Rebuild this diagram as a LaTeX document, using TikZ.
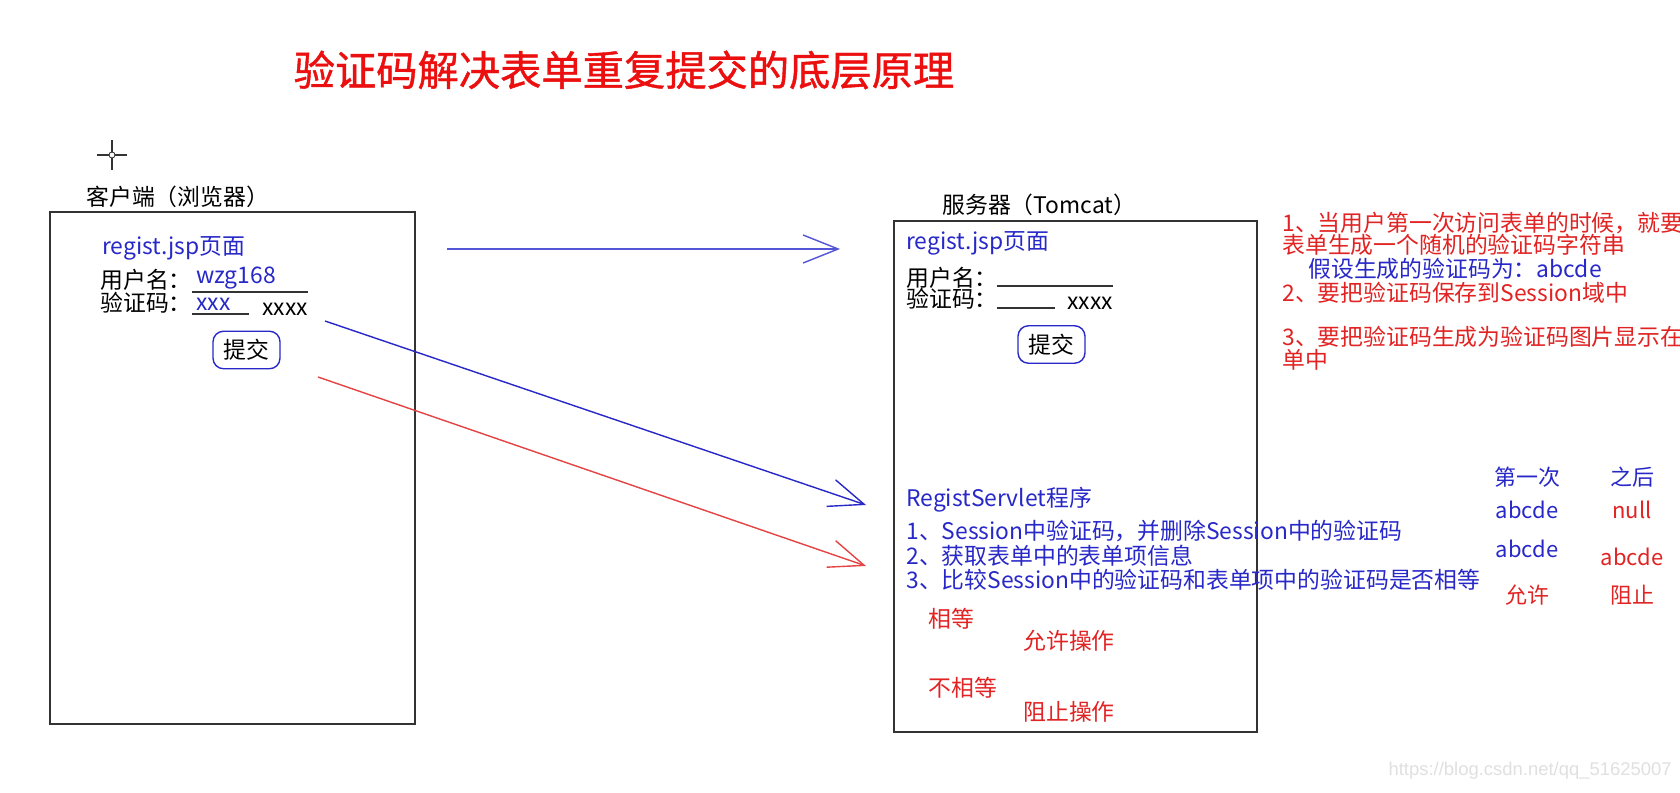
\documentclass[tikz,border=0pt]{standalone}
\usepackage{fontspec}
\setmainfont{Noto Sans CJK SC}
\newfontfamily\titlefont[FakeBold=1]{Noto Sans CJK SC}
\newfontfamily\markfont{Liberation Sans}
\usepackage{tikz}
\usetikzlibrary{arrows.meta}
\usetikzlibrary{positioning}
\definecolor{penblue}{RGB}{40,40,200}
\definecolor{arrowblue}{RGB}{85,85,215}
\definecolor{penred}{RGB}{225,35,35}
\definecolor{titlered}{RGB}{235,15,15}
\tikzstyle{panel} = [draw=black!80, line width=0.8pt, rectangle, inner sep=0pt]
\tikzstyle{txt} = [anchor=west, inner sep=0pt, font=\fontsize{13}{14}\selectfont]
\tikzstyle{cell} = [inner sep=0pt, font=\fontsize{12.5}{13}\selectfont]
\tikzstyle{btn} = [draw=penblue, rounded corners=6pt, line width=0.8pt, minimum width=1.34cm, minimum height=0.75cm, inner sep=0pt, font=\fontsize{13}{14}\selectfont]
\tikzstyle{arrow} = [line width=0.8pt, -{Straight Barb[length=7mm, width=5.6mm]}]

\begin{document}
\begin{tikzpicture}[x=0.02cm, y=-0.02cm]
	
	\fill[white] (0,0) rectangle (1680,793);
	\useasboundingbox (0,0) rectangle (1680,793);
	
	% Title
	\node[inner sep=0pt, text=titlered, font=\titlefont\fontsize{23.5}{25}\selectfont] (title) at (624,70) {验证码解决表单重复提交的底层原理};
	
	% Cursor mark
	\draw[black!80, line width=0.6pt] (97,155) -- (127,155);
	\draw[black!80, line width=0.6pt] (112,140) -- (112,170);
	\draw[black!80, fill=white, line width=0.5pt] (112,155) circle (3);
	
	% Client side
	\node[txt] (clientlbl) at (86,197) {客户端（浏览器）};
	\node[panel, minimum width=7.3cm, minimum height=10.24cm] (client) at (232.5,468) {};
	\node[txt, text=penblue] (cpage) at (102,248) {regist.jsp页面};
	\node[txt] (cuser) at (100,280) {用户名：};
	\node[txt, text=penblue] (cuserval) at (196,278) {wzg168};
	\node[txt] (ccode) at (100,303) {验证码：};
	\node[txt, text=penblue] (ccodeval) at (196,304) {xxx};
	\node[txt] (cimg) at (262,309) {xxxx};
	\draw[black!80, line width=0.6pt] (192,292) -- (308,292);
	\draw[black!80, line width=0.6pt] (192,314) -- (249,314);
	\node[btn] (csubmit) at (246.5,350) {提交};
	
	% Server side
	\node[txt] (serverlbl) at (942,205) {服务器（Tomcat）};
	\node[panel, minimum width=7.26cm, minimum height=10.22cm] (server) at (1075.5,476.5) {};
	\node[txt, text=penblue] (spage) at (906,243) {regist.jsp页面};
	\node[txt] (suser) at (906,278) {用户名：};
	\node[txt] (scode) at (906,299) {验证码：};
	\node[txt] (simg) at (1067,303) {xxxx};
	\draw[black!80, line width=0.6pt] (997,286) -- (1113,286);
	\draw[black!80, line width=0.6pt] (997,308) -- (1055,308);
	\node[btn] (ssubmit) at (1051.5,344.5) {提交};
	
	% Servlet steps
	\node[txt, text=penblue] (servlet) at (906,500) {RegistServlet程序};
	\node[txt, text=penblue] (step1) at (906,531) {1、Session中验证码，并删除Session中的验证码};
	\node[txt, text=penblue] (step2) at (906,556) {2、获取表单中的表单项信息};
	\node[txt, text=penblue] (step3) at (906,580) {3、比较Session中的验证码和表单项中的验证码是否相等};
	\node[txt, text=penred] (equal) at (928,619) {相等};
	\node[txt, text=penred] (allow) at (1023,641) {允许操作};
	\node[txt, text=penred] (notequal) at (928,688) {不相等};
	\node[txt, text=penred] (block) at (1023,712) {阻止操作};
	
	% Notes
	\node[txt, text=penred] (note1) at (1282,223) {1、当用户第一次访问表单的时候，就要};
	\node[txt, text=penred] (note1b) at (1282,245) {表单生成一个随机的验证码字符串};
	\node[txt, text=penblue] (note1c) at (1308,269) {假设生成的验证码为：abcde};
	\node[txt, text=penred] (note2) at (1282,293) {2、要把验证码保存到Session域中};
	\node[txt, text=penred] (note3) at (1282,337) {3、要把验证码生成为验证码图片显示在};
	\node[txt, text=penred] (note3b) at (1282,360) {单中};
	
	% Table of codes
	\node[cell, text=penblue] (hfirst) at (1527,477) {第一次};
	\node[cell, text=penblue] (hafter) at (1632,477) {之后};
	\node[cell, text=penblue] (first1) at (1527,510) {abcde};
	\node[cell, text=penred] (after1) at (1632,510) {null};
	\node[cell, text=penblue] (first2) at (1527,549) {abcde};
	\node[cell, text=penred] (after2) at (1632,557) {abcde};
	\node[cell, text=penred] (first3) at (1527,595) {允许};
	\node[cell, text=penred] (after3) at (1632,595) {阻止};
	
	% Watermark
	\node[anchor=east, inner sep=0pt, text=black!12, font=\fontsize{10.5}{11}\markfont] (mark) at (1672,771) {https://blog.csdn.net/qq\_51625007};
	
	% Connect all nodes defined above
	\coordinate (topfrom) at (447,249);
	\coordinate (topto) at (840,249);
	\coordinate (bluefrom) at (325,321);
	\coordinate (blueto) at (866,505);
	\coordinate (redfrom) at (318,377);
	\coordinate (redto) at (866,566);
	\draw[arrow, arrowblue] (topfrom) -- (topto);
	\draw[arrow, penblue] (bluefrom) -- (blueto);
	\draw[arrow, penred!85] (redfrom) -- (redto);
	
\end{tikzpicture}
\end{document}
